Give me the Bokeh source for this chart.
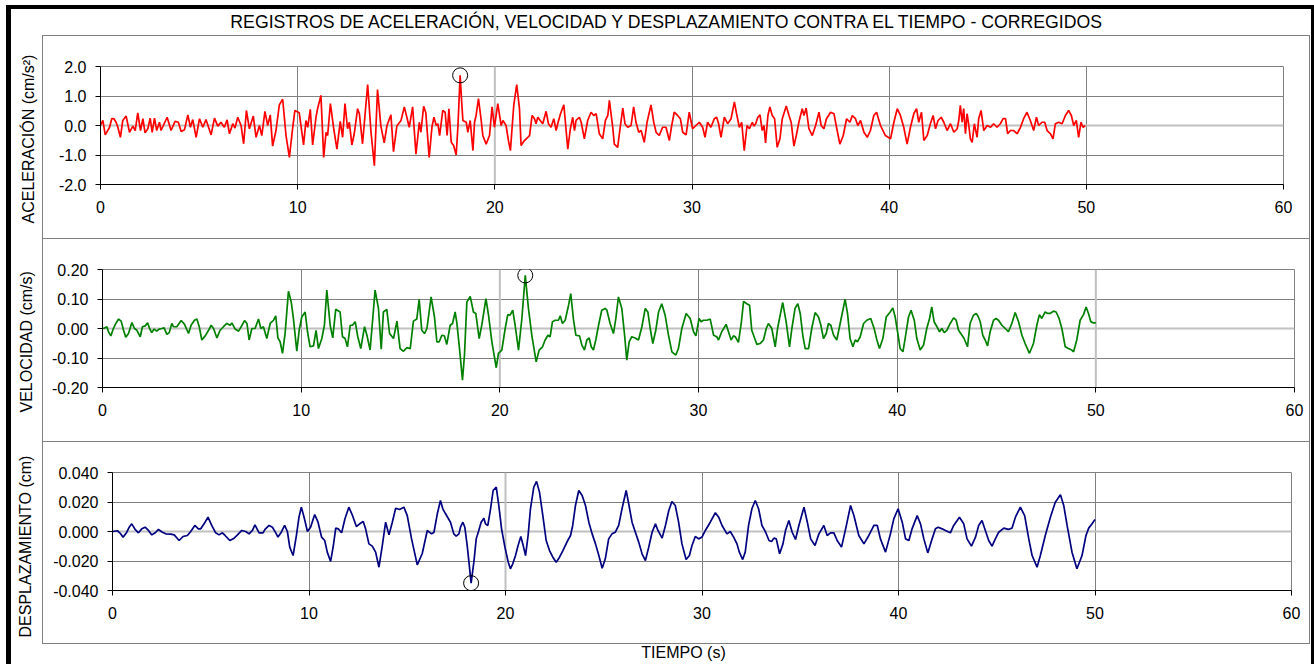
from bokeh.plotting import figure
from bokeh.models import Range1d, FixedTicker, Label, Span, Title
from bokeh.embed import file_html
from bokeh.resources import INLINE

FONT = "Liberation Sans"
TITLE = "REGISTROS DE ACELERACIÓN, VELOCIDAD Y DESPLAZAMIENTO CONTRA EL TIEMPO - CORREGIDOS"
X_TITLE = "TIEMPO (s)"
Y_TITLES = ["ACELERACIÓN (cm/s²)", "VELOCIDAD (cm/s)", "DESPLAZAMIENTO (cm)"]
X_TICKS = [0, 10, 20, 30, 40, 50, 60]
ACC_TICKS = [-2.0, -1.0, 0.0, 1.0, 2.0]
ACC_LABELS = ["-2.0", "-1.0", "0.0", "1.0", "2.0"]
VEL_TICKS = [-0.2, -0.1, 0.0, 0.1, 0.2]
VEL_LABELS = ["-0.20", "-0.10", "0.00", "0.10", "0.20"]
DIS_TICKS = [-0.04, -0.02, 0.0, 0.02, 0.04]
DIS_LABELS = ["-0.040", "-0.020", "0.000", "0.020", "0.040"]

# (tiempo s, aceleración cm/s²)
ACC = [
    (0.0, 0.0), (0.12, 0.17), (0.24, -0.32), (0.46, -0.06), (0.57, 0.23), (0.68, 0.23), (0.79, 0.11),
    (0.88, -0.06), (1.01, -0.40), (1.13, 0.17), (1.30, 0.32), (1.47, -0.23), (1.64, -0.02), (1.76, -0.17),
    (1.89, 0.43), (2.03, -0.17), (2.15, 0.23), (2.26, -0.25), (2.40, -0.11), (2.52, 0.25), (2.62, -0.23),
    (2.74, 0.25), (2.85, -0.17), (2.99, 0.11), (3.07, -0.17), (3.38, 0.28), (3.58, -0.17), (3.78, 0.14),
    (3.95, 0.11), (4.09, -0.20), (4.26, -0.14), (4.43, 0.36), (4.56, -0.06), (4.68, 0.20), (4.85, -0.40),
    (5.02, 0.23), (5.19, -0.06), (5.35, 0.20), (5.61, -0.32), (5.78, 0.25), (5.95, -0.02), (6.11, 0.11),
    (6.28, -0.06), (6.42, 0.19), (6.54, -0.28), (6.71, 0.06), (6.82, -0.09), (6.96, 0.28), (7.13, 0.0),
    (7.26, -0.62), (7.40, 0.51), (7.55, -0.11), (7.75, 0.32), (7.89, -0.40), (8.06, 0.0), (8.18, -0.34),
    (8.34, 0.48), (8.48, 0.0), (8.61, 0.36), (8.73, -0.70), (8.90, -0.17), (9.07, 0.70), (9.24, 0.89),
    (9.41, -0.34), (9.58, -1.08), (9.75, -0.06), (9.86, 0.51), (10.08, 0.43), (10.30, -0.66), (10.42, 0.17),
    (10.51, -0.06), (10.64, 0.55), (10.76, -0.66), (10.93, 0.28), (11.01, 0.57), (11.18, 1.02), (11.32, -1.08),
    (11.44, -0.23), (11.52, -0.34), (11.66, 0.74), (11.82, -0.06), (11.99, -0.80), (12.16, 0.14), (12.28, -0.40),
    (12.40, 0.74), (12.53, -0.11), (12.62, 0.11), (12.75, -0.66), (12.87, -0.28), (13.04, 0.57), (13.13, 0.40),
    (13.29, -0.62), (13.55, 1.39), (13.72, -0.23), (13.89, -1.36), (14.05, 1.22), (14.22, -0.02), (14.39, -0.59),
    (14.53, 0.0), (14.73, 0.36), (14.86, -0.89), (15.03, -0.02), (15.24, 0.17), (15.41, 0.63), (15.66, -0.06),
    (15.83, 0.63), (16.00, -0.97), (16.17, 0.11), (16.25, -0.23), (16.39, 0.65), (16.50, 0.43), (16.67, -1.08),
    (16.81, -0.06), (16.91, 0.28), (17.03, 0.0), (17.11, 0.06), (17.20, -0.34), (17.36, 0.51), (17.48, 0.45),
    (17.58, -0.34), (17.67, 0.57), (17.79, -0.57), (17.91, -0.68), (18.04, -1.00), (18.13, 0.0), (18.24, 1.70),
    (18.33, 0.68), (18.38, 0.17), (18.55, 0.11), (18.63, -0.23), (18.75, 0.17), (18.89, -0.85), (18.97, 0.11),
    (19.05, 0.34), (19.17, 0.91), (19.31, 0.17), (19.39, -0.34), (19.56, -0.63), (19.73, -0.34), (19.86, 0.63),
    (19.98, -0.06), (20.15, 0.74), (20.32, 0.0), (20.41, 0.17), (20.57, 0.0), (20.69, -0.51), (20.79, -0.85),
    (20.96, 0.68), (21.11, 1.39), (21.25, 0.57), (21.33, -0.68), (21.50, -0.51), (21.67, -0.40), (21.76, -0.34),
    (21.89, 0.34), (22.01, 0.23), (22.09, 0.06), (22.18, 0.28), (22.30, 0.17), (22.43, 0.06), (22.60, 0.48),
    (22.72, 0.06), (22.85, -0.06), (22.99, 0.23), (23.11, -0.17), (23.19, 0.06), (23.33, 0.40), (23.50, 0.70),
    (23.58, 0.11), (23.70, -0.80), (23.83, -0.11), (23.95, 0.28), (24.04, -0.17), (24.12, 0.17), (24.29, 0.28),
    (24.38, 0.11), (24.54, -0.45), (24.71, 0.17), (24.88, 0.45), (25.02, 0.34), (25.14, 0.40), (25.30, -0.28),
    (25.47, -0.45), (25.61, 0.17), (25.73, 0.34), (25.81, 0.85), (25.98, -0.06), (26.06, -0.63), (26.23, -0.74),
    (26.35, -0.11), (26.49, 0.59), (26.60, 0.06), (26.74, -0.06), (26.91, 0.0), (27.04, 0.63), (27.16, 0.11),
    (27.30, -0.23), (27.42, -0.17), (27.58, -0.57), (27.72, 0.11), (27.92, 0.70), (28.06, 0.11), (28.18, -0.23),
    (28.34, -0.34), (28.51, -0.06), (28.68, -0.06), (28.85, -0.51), (28.97, 0.0), (29.10, 0.45), (29.27, 0.34),
    (29.41, 0.23), (29.53, -0.23), (29.70, -0.32), (29.86, 0.45), (30.03, -0.11), (30.20, 0.0), (30.37, 0.11),
    (30.54, -0.06), (30.66, -0.40), (30.79, 0.11), (30.96, -0.06), (31.13, 0.23), (31.25, 0.28), (31.35, 0.06),
    (31.47, -0.40), (31.64, 0.28), (31.81, 0.06), (31.98, 0.23), (32.15, 0.80), (32.26, 0.40), (32.40, -0.06),
    (32.52, 0.11), (32.65, -0.85), (32.79, 0.0), (32.91, -0.11), (33.06, 0.11), (33.14, -0.02), (33.23, 0.06),
    (33.34, 0.28), (33.45, 0.36), (33.56, -0.17), (33.65, 0.0), (33.73, -0.59), (33.85, 0.34), (33.95, 0.63),
    (34.07, 0.34), (34.19, 0.23), (34.32, -0.74), (34.46, -0.45), (34.58, 0.23), (34.78, 0.66), (34.92, 0.34),
    (35.03, 0.11), (35.17, -0.70), (35.29, -0.34), (35.42, 0.11), (35.59, 0.57), (35.68, 0.34), (35.79, 0.59),
    (35.93, -0.11), (36.10, -0.34), (36.27, 0.0), (36.44, 0.45), (36.55, 0.0), (36.69, -0.11), (36.82, 0.23),
    (37.03, 0.45), (37.20, 0.40), (37.33, -0.06), (37.50, -0.63), (37.67, -0.34), (37.84, 0.23), (38.01, 0.11),
    (38.13, 0.34), (38.29, 0.23), (38.41, 0.0), (38.55, 0.17), (38.72, -0.23), (38.89, -0.40), (39.05, -0.17),
    (39.22, 0.34), (39.36, 0.45), (39.56, 0.0), (39.81, -0.34), (40.07, -0.45), (40.24, 0.11), (40.41, 0.57),
    (40.57, 0.34), (40.74, -0.06), (40.91, -0.63), (41.08, -0.06), (41.25, 0.40), (41.39, 0.57), (41.50, 0.11),
    (41.64, 0.45), (41.76, -0.51), (41.93, -0.34), (42.09, 0.06), (42.23, 0.34), (42.35, -0.11), (42.48, 0.17),
    (42.64, 0.28), (42.77, 0.11), (42.94, -0.17), (43.11, 0.06), (43.28, -0.23), (43.45, -0.11), (43.53, 0.17),
    (43.61, 0.68), (43.70, 0.11), (43.78, 0.57), (43.87, -0.28), (43.95, 0.40), (44.04, 0.0), (44.12, -0.45),
    (44.21, -0.57), (44.32, 0.06), (44.46, -0.40), (44.54, 0.23), (44.66, 0.51), (44.80, -0.17), (44.97, 0.0),
    (45.14, -0.06), (45.30, 0.06), (45.47, -0.06), (45.64, 0.06), (45.78, 0.23), (45.90, 0.23), (46.01, -0.28),
    (46.15, -0.17), (46.32, -0.17), (46.49, -0.28), (46.66, -0.06), (46.82, 0.23), (46.99, 0.45), (47.16, 0.17),
    (47.33, -0.17), (47.47, 0.28), (47.58, 0.0), (47.75, 0.11), (47.89, 0.11), (48.01, -0.17), (48.18, -0.28),
    (48.31, -0.45), (48.43, 0.06), (48.60, 0.11), (48.77, 0.06), (48.94, 0.34), (49.10, 0.51), (49.24, 0.34),
    (49.36, 0.0), (49.49, 0.17), (49.61, -0.40), (49.73, 0.11), (49.83, -0.06), (49.95, 0.0),
]

# (tiempo s, velocidad cm/s)
VEL = [
    (0.0, 0.0), (0.13, 0.002), (0.22, 0.006), (0.30, -0.011), (0.42, -0.025), (0.55, 0.0), (0.67, 0.017),
    (0.81, 0.032), (0.94, 0.025), (1.06, -0.006), (1.17, -0.030), (1.31, -0.017), (1.48, 0.020), (1.61, 0.0),
    (1.73, -0.006), (1.90, -0.028), (2.01, 0.006), (2.15, 0.009), (2.27, 0.019), (2.37, 0.0), (2.48, -0.014),
    (2.60, -0.002), (2.73, -0.009), (2.85, -0.002), (2.99, 0.0), (3.10, 0.002), (3.24, -0.020), (3.36, -0.014),
    (3.49, 0.017), (3.57, 0.006), (3.74, 0.006), (3.96, 0.027), (4.13, 0.014), (4.33, -0.017), (4.46, 0.011),
    (4.63, 0.028), (4.75, 0.032), (4.87, 0.006), (5.00, -0.039), (5.17, -0.025), (5.34, -0.006), (5.47, 0.011),
    (5.59, 0.0), (5.76, -0.032), (5.92, -0.006), (6.09, 0.006), (6.26, 0.017), (6.43, 0.011), (6.51, 0.019),
    (6.68, -0.002), (6.85, -0.009), (6.98, 0.006), (7.15, 0.027), (7.27, 0.017), (7.38, -0.039), (7.52, 0.0),
    (7.68, 0.0), (7.85, 0.032), (7.97, 0.0), (8.10, 0.006), (8.27, -0.034), (8.44, 0.017), (8.61, 0.028),
    (8.72, 0.043), (8.83, -0.032), (8.94, -0.045), (9.06, -0.084), (9.19, -0.017), (9.36, 0.126), (9.50, 0.090),
    (9.61, 0.034), (9.78, -0.077), (9.90, -0.006), (10.03, 0.039), (10.20, 0.056), (10.32, -0.011), (10.45, -0.062),
    (10.62, -0.059), (10.75, -0.006), (10.87, -0.068), (11.04, -0.034), (11.17, 0.011), (11.29, 0.130), (11.46, 0.011),
    (11.59, -0.032), (11.74, 0.065), (11.96, 0.056), (12.08, -0.028), (12.21, -0.034), (12.33, -0.062), (12.47, 0.011),
    (12.58, 0.011), (12.72, 0.023), (12.85, -0.028), (13.00, -0.068), (13.19, 0.006), (13.31, -0.023), (13.47, -0.073),
    (13.61, 0.039), (13.72, 0.130), (13.89, 0.068), (14.03, -0.070), (14.14, 0.056), (14.31, 0.065), (14.45, -0.017),
    (14.65, -0.034), (14.82, 0.025), (14.98, -0.068), (15.15, -0.077), (15.32, -0.065), (15.49, -0.068), (15.65, 0.025),
    (15.82, 0.032), (15.94, 0.099), (16.07, -0.006), (16.21, -0.017), (16.33, 0.0), (16.54, 0.107), (16.71, 0.039),
    (16.83, -0.045), (16.95, -0.045), (17.08, -0.023), (17.21, -0.025), (17.33, -0.054), (17.50, 0.011), (17.62, 0.017),
    (17.75, 0.056), (17.84, 0.017), (17.97, -0.068), (18.12, -0.175), (18.22, -0.090), (18.34, 0.090), (18.51, 0.109),
    (18.67, 0.056), (18.79, 0.051), (18.96, -0.034), (19.09, 0.011), (19.30, 0.101), (19.43, 0.045), (19.60, -0.045),
    (19.82, -0.133), (19.93, -0.084), (20.10, -0.073), (20.27, 0.0), (20.40, 0.047), (20.52, 0.045), (20.65, 0.062),
    (20.77, 0.011), (20.94, -0.073), (21.11, 0.034), (21.28, 0.180), (21.44, 0.068), (21.61, -0.023), (21.83, -0.113),
    (21.98, -0.073), (22.15, -0.062), (22.28, -0.039), (22.42, -0.023), (22.53, -0.028), (22.65, 0.023), (22.79, 0.028),
    (22.95, 0.028), (23.04, 0.043), (23.15, 0.017), (23.29, 0.028), (23.46, 0.079), (23.57, 0.118), (23.71, 0.028),
    (23.83, -0.023), (24.01, -0.025), (24.13, -0.056), (24.26, -0.073), (24.38, -0.039), (24.50, -0.032), (24.60, -0.062),
    (24.71, -0.073), (24.83, -0.039), (24.97, 0.011), (25.13, 0.062), (25.30, 0.068), (25.39, 0.062), (25.55, 0.017),
    (25.72, -0.017), (25.84, 0.034), (25.97, 0.107), (26.14, 0.068), (26.28, -0.023), (26.39, -0.107), (26.51, -0.045),
    (26.64, -0.028), (26.81, -0.032), (26.98, -0.039), (27.15, 0.006), (27.32, 0.068), (27.45, 0.056), (27.57, 0.0),
    (27.70, -0.051), (27.85, -0.006), (27.99, 0.056), (28.15, 0.084), (28.32, 0.045), (28.49, -0.023), (28.66, -0.079),
    (28.86, -0.090), (28.99, -0.068), (29.16, 0.0), (29.38, 0.051), (29.58, 0.034), (29.75, -0.011), (29.87, -0.025),
    (30.03, 0.034), (30.13, 0.023), (30.25, 0.028), (30.42, 0.028), (30.59, 0.032), (30.76, -0.023), (30.92, -0.028),
    (31.01, -0.039), (31.17, -0.011), (31.39, 0.014), (31.51, -0.011), (31.64, -0.039), (31.76, -0.025), (31.85, -0.028),
    (32.01, -0.047), (32.15, 0.017), (32.27, 0.092), (32.43, 0.084), (32.57, 0.079), (32.68, -0.006), (32.94, -0.054),
    (33.10, -0.051), (33.27, -0.039), (33.41, 0.0), (33.52, 0.017), (33.69, 0.0), (33.86, -0.062), (33.98, 0.0),
    (34.11, 0.045), (34.24, 0.088), (34.41, 0.023), (34.58, -0.062), (34.70, 0.0), (34.86, 0.068), (35.00, 0.084),
    (35.12, 0.051), (35.25, -0.023), (35.37, -0.068), (35.54, -0.068), (35.70, 0.0), (35.87, 0.054), (36.04, 0.039),
    (36.16, 0.011), (36.29, -0.034), (36.43, -0.017), (36.54, 0.017), (36.66, 0.011), (36.80, -0.023), (36.96, -0.039),
    (37.13, 0.017), (37.38, 0.099), (37.50, 0.051), (37.63, -0.034), (37.77, -0.062), (37.89, -0.039), (38.00, -0.045),
    (38.14, -0.028), (38.31, 0.017), (38.47, 0.028), (38.67, 0.034), (38.84, 0.0), (38.98, -0.039), (39.11, -0.068),
    (39.28, -0.034), (39.45, 0.039), (39.65, 0.056), (39.78, 0.070), (39.90, 0.039), (40.02, -0.011), (40.15, -0.068),
    (40.29, -0.079), (40.40, -0.034), (40.57, 0.039), (40.70, 0.062), (40.86, 0.028), (40.99, -0.034), (41.16, -0.073),
    (41.33, -0.056), (41.49, 0.0), (41.63, 0.034), (41.74, 0.073), (41.86, 0.023), (42.00, 0.006), (42.13, -0.011),
    (42.25, 0.0), (42.37, -0.014), (42.50, -0.006), (42.67, 0.017), (42.84, 0.036), (42.97, 0.028), (43.09, -0.006),
    (43.26, -0.023), (43.37, -0.034), (43.54, -0.062), (43.67, 0.017), (43.84, 0.045), (43.98, 0.051), (44.09, 0.039),
    (44.18, 0.023), (44.31, -0.023), (44.43, -0.039), (44.55, -0.059), (44.68, -0.011), (44.85, 0.028), (44.98, 0.034),
    (45.10, 0.028), (45.27, 0.011), (45.44, 0.0), (45.60, -0.011), (45.77, 0.017), (45.94, 0.054), (46.11, 0.023),
    (46.28, -0.023), (46.44, -0.051), (46.66, -0.084), (46.86, -0.051), (47.03, 0.011), (47.16, 0.047), (47.28, 0.034),
    (47.45, 0.056), (47.57, 0.051), (47.70, 0.051), (47.87, 0.059), (48.00, 0.056), (48.15, 0.034), (48.29, 0.0),
    (48.46, -0.062), (48.62, -0.068), (48.79, -0.073), (48.88, -0.079), (49.04, -0.039), (49.21, 0.028), (49.38, 0.047),
    (49.51, 0.073), (49.63, 0.051), (49.75, 0.023), (49.88, 0.019), (50.0, 0.019),
]

# (tiempo s, desplazamiento cm)
DIS = [
    (0.0, 0.0), (0.25, 0.0005), (0.37, -0.0009), (0.54, -0.0038), (0.71, -0.0009), (0.85, 0.0029), (0.98, 0.0052),
    (1.15, 0.0014), (1.32, -0.0009), (1.49, 0.0018), (1.66, 0.0029), (1.83, 0.0007), (2.00, -0.0023), (2.17, -0.0009),
    (2.34, 0.0014), (2.54, -0.0005), (2.71, -0.0016), (2.97, -0.0018), (3.14, -0.0023), (3.39, -0.0061), (3.59, -0.0034),
    (3.81, -0.0027), (3.98, 0.0), (4.19, 0.0041), (4.37, 0.0018), (4.49, 0.0018), (4.66, 0.0052), (4.86, 0.0097),
    (5.05, 0.0041), (5.25, -0.0009), (5.42, -0.0023), (5.59, -0.0009), (5.73, -0.0027), (5.97, -0.0061), (6.19, -0.0045),
    (6.36, -0.0023), (6.58, 0.0007), (6.78, 0.0), (6.95, -0.0016), (7.12, 0.0007), (7.25, 0.0045), (7.46, -0.0009),
    (7.66, -0.0009), (7.76, 0.0014), (7.97, 0.0041), (8.14, 0.0029), (8.31, -0.0009), (8.42, -0.0038), (8.59, -0.0005),
    (8.76, 0.0041), (8.90, 0.0), (9.02, -0.0106), (9.19, -0.0163), (9.36, -0.0027), (9.49, 0.0097), (9.61, 0.0165),
    (9.75, 0.0097), (9.92, 0.0), (10.08, 0.0029), (10.29, 0.0115), (10.46, 0.0063), (10.64, -0.0038), (10.80, -0.0061),
    (10.93, -0.0140), (11.10, -0.0203), (11.24, -0.0095), (11.36, 0.0023), (11.49, 0.0018), (11.66, -0.0009),
    (11.83, 0.0086), (12.03, 0.0165), (12.20, 0.0113), (12.41, 0.0034), (12.58, 0.0052), (12.76, 0.0068), (12.88, 0.0018),
    (13.05, -0.0084), (13.22, -0.0099), (13.39, -0.0140), (13.56, -0.0242), (13.73, -0.0095), (13.90, 0.0063),
    (14.07, -0.0023), (14.24, 0.0063), (14.41, 0.0158), (14.61, 0.0149), (14.83, 0.0165), (15.00, 0.0108),
    (15.22, -0.0050), (15.51, -0.0226), (15.76, -0.0151), (16.02, 0.0007), (16.24, -0.0016), (16.36, -0.0005),
    (16.53, 0.0120), (16.69, 0.0210), (16.81, 0.0154), (16.95, 0.0120), (17.20, 0.0063), (17.37, -0.0016),
    (17.49, -0.0032), (17.63, -0.0016), (17.71, 0.0029), (17.83, 0.0063), (17.93, 0.0029), (18.05, -0.0095),
    (18.14, -0.0208), (18.25, -0.0350), (18.39, -0.0208), (18.51, -0.0050), (18.64, 0.0007), (18.76, 0.0063),
    (18.90, 0.0090), (18.98, 0.0052), (19.10, 0.0041), (19.24, 0.0154), (19.37, 0.0278), (19.53, 0.0301),
    (19.66, 0.0176), (19.80, 0.0018), (19.97, -0.0106), (20.14, -0.0208), (20.25, -0.0253), (20.37, -0.0219),
    (20.51, -0.0163), (20.64, -0.0095), (20.78, -0.0034), (20.88, -0.0084), (21.02, -0.0163), (21.15, -0.0027),
    (21.27, 0.0154), (21.44, 0.0301), (21.58, 0.0340), (21.73, 0.0267), (21.90, 0.0108), (22.07, -0.0061),
    (22.24, -0.0129), (22.41, -0.0174), (22.58, -0.0208), (22.75, -0.0174), (22.92, -0.0129), (23.14, -0.0068),
    (23.31, -0.0027), (23.42, 0.0041), (23.56, 0.0176), (23.73, 0.0278), (23.90, 0.0244), (24.07, 0.0176),
    (24.24, 0.0063), (24.41, -0.0016), (24.58, -0.0084), (24.75, -0.0163), (24.92, -0.0249), (25.08, -0.0185),
    (25.25, -0.0050), (25.42, -0.0016), (25.59, -0.0005), (25.76, 0.0041), (25.93, 0.0154), (26.14, 0.0278),
    (26.27, 0.0188), (26.44, 0.0063), (26.61, -0.0005), (26.78, -0.0072), (26.95, -0.0151), (27.12, -0.0197),
    (27.29, -0.0106), (27.46, -0.0005), (27.63, 0.0052), (27.76, 0.0007), (27.97, -0.0045), (28.14, 0.0041),
    (28.31, 0.0142), (28.47, 0.0203), (28.64, 0.0176), (28.81, 0.0063), (28.98, -0.0084), (29.19, -0.0190),
    (29.36, -0.0163), (29.49, -0.0095), (29.66, -0.0034), (29.83, -0.0050), (30.00, -0.0038), (30.17, 0.0007),
    (30.42, 0.0063), (30.68, 0.0127), (30.85, 0.0097), (31.02, 0.0041), (31.27, -0.0016), (31.44, 0.0),
    (31.61, -0.0038), (31.78, -0.0084), (31.90, -0.0140), (32.07, -0.0190), (32.20, -0.0140), (32.37, 0.0041),
    (32.54, 0.0154), (32.71, 0.0210), (32.88, 0.0154), (33.05, 0.0041), (33.24, -0.0005), (33.41, -0.0061),
    (33.54, -0.0068), (33.66, -0.0045), (33.78, -0.0050), (33.95, -0.0151), (34.12, -0.0084), (34.25, 0.0007),
    (34.42, 0.0075), (34.59, -0.0005), (34.76, -0.0054), (34.93, 0.0041), (35.19, 0.0165), (35.36, 0.0063),
    (35.53, -0.0050), (35.75, -0.0095), (35.95, -0.0016), (36.20, 0.0041), (36.37, -0.0027), (36.54, -0.0009),
    (36.71, -0.0009), (36.88, -0.0061), (37.10, -0.0106), (37.31, 0.0018), (37.56, 0.0176), (37.73, 0.0108),
    (37.98, -0.0027), (38.24, -0.0084), (38.49, -0.0027), (38.75, 0.0041), (38.92, 0.0041), (39.08, -0.0050),
    (39.34, -0.0140), (39.59, -0.0016), (39.76, 0.0086), (39.98, 0.0154), (40.19, 0.0063), (40.36, -0.0050),
    (40.53, -0.0061), (40.69, 0.0018), (40.95, 0.0108), (41.12, 0.0052), (41.29, -0.0050), (41.49, -0.0145),
    (41.71, -0.0050), (41.88, 0.0018), (42.02, 0.0029), (42.22, 0.0018), (42.39, 0.0007), (42.64, -0.0009),
    (42.81, 0.0041), (43.10, 0.0097), (43.32, 0.0052), (43.49, -0.0050), (43.71, -0.0099), (43.92, -0.0038),
    (44.08, 0.0041), (44.25, 0.0075), (44.42, 0.0007), (44.59, -0.0061), (44.76, -0.0099), (44.93, -0.0050),
    (45.10, -0.0005), (45.36, 0.0023), (45.58, 0.0014), (45.78, 0.0023), (45.95, 0.0097), (46.20, 0.0165),
    (46.42, 0.0108), (46.63, -0.0050), (46.80, -0.0163), (47.05, -0.0242), (47.22, -0.0163), (47.47, -0.0027),
    (47.73, 0.0097), (47.98, 0.0199), (48.24, 0.0249), (48.41, 0.0176), (48.58, 0.0041), (48.83, -0.0140),
    (49.08, -0.0253), (49.34, -0.0163), (49.54, -0.0027), (49.68, 0.0023), (49.85, 0.0052), (50.0, 0.0081),
]

W = 1314
GRID = "#808080"
LIGHT = "#c0c0c0"


def css_bg(rects):
    return {
        "background-image": ", ".join(f"linear-gradient({c}, {c})" for (_, _, _, _, c) in rects),
        "background-size": ", ".join(f"{w}px {h}px" for (_, _, w, h, _) in rects),
        "background-position": ", ".join(f"{x}px {y}px" for (x, y, _, _, _) in rects),
        "background-repeat": "no-repeat",
    }


def frame_rects(h, y0=0):
    return [(6, y0, 5, h - y0, "#000000"), (1311, y0, 3, h - y0, "#000000")]


def strip(h, text, tx, ty, size, rects):
    s = figure(width=W, height=h, x_range=Range1d(0, W), y_range=Range1d(h, 0),
               x_axis_type=None, y_axis_type=None, min_border=0,
               output_backend="svg", toolbar_location=None, styles=css_bg(rects))
    s.grid.visible = False
    s.outline_line_color = None
    s.background_fill_color = None
    s.border_fill_color = None
    s.add_layout(Label(x=tx, y=ty, text=text, text_align="center", text_baseline="middle",
                       text_font=FONT, text_font_size=size, text_color="black"))
    return s


def panel(pts, color, ticks, labels, ytitle, bl, fw, t_standoff, t_offset, light_x, last=False):
    h = 203
    rects = [(42, 0, 1, h, GRID), (1309, 0, 1, h, GRID), (42, 0, 1268, 1, GRID)] + frame_rects(h)
    if last:
        rects.append((42, h - 1, 1268, 1, GRID))
    p = figure(width=W, height=h, x_range=Range1d(0, 60), y_range=Range1d(ticks[0], ticks[-1]),
               min_border_left=bl, min_border_right=W - bl - fw, min_border_top=31, min_border_bottom=54,
               output_backend="svg", toolbar_location=None, styles=css_bg(rects))
    p.background_fill_color = "white"
    p.border_fill_color = None
    p.outline_line_color = GRID
    p.xaxis.ticker = FixedTicker(ticks=X_TICKS)
    p.yaxis.ticker = FixedTicker(ticks=ticks)
    p.yaxis.major_label_overrides = dict(zip(ticks, labels))
    for ax in (p.xaxis[0], p.yaxis[0]):
        ax.axis_line_color = "black"
        ax.axis_line_width = 1
        ax.major_tick_line_color = "black"
        ax.major_tick_out = 5
        ax.major_tick_in = 0
        ax.minor_tick_line_color = None
        ax.major_label_text_font = FONT
        ax.major_label_text_font_size = "16px"
        ax.major_label_text_color = "black"
    p.xaxis.major_label_standoff = 11
    p.yaxis.major_label_standoff = 9
    p.grid.grid_line_color = GRID
    p.grid.grid_line_width = 1
    p.grid.grid_line_alpha = 1
    p.add_layout(Span(location=0, dimension="width", line_color=LIGHT, line_width=2, level="underlay"))
    for lx in light_x:
        p.add_layout(Span(location=lx, dimension="height", line_color=LIGHT, line_width=2, level="underlay"))

    t = [a for a, _ in pts]
    v = [b for _, b in pts]
    p.line(t, v, line_color=color, line_width=1.7)
    k = max(range(len(v)), key=lambda i: abs(v[i]))
    p.scatter([t[k]], [v[k]], marker="circle", size=15, fill_color=None, line_color="black", line_width=1)

    p.add_layout(Title(text=ytitle, align="left", offset=t_offset, vertical_align="middle",
                       standoff=t_standoff, text_font=FONT, text_font_size="16px",
                       text_font_style="normal", text_color="black"), "left")
    return p


top = strip(35, TITLE, 667.5, 21, "17.7px", frame_rects(35, 5) + [(6, 5, 1308, 4, "#000000")])
pA = panel(ACC, "#ff0000", ACC_TICKS, ACC_LABELS, Y_TITLES[0], 98, 1185, 36, -39, [20])
pB = panel(VEL, "#008000", VEL_TICKS, VEL_LABELS, Y_TITLES[1], 102, 1192, 28, -25, [20, 50])
pC = panel(DIS, "#000080", DIS_TICKS, DIS_LABELS, Y_TITLES[2], 111, 1180, 31, -47, [20], last=True)
bottom = strip(20, X_TITLE, 683, 8, "16px", frame_rects(20))

open("out.html", "w").write(file_html([top, pA, pB, pC, bottom], INLINE))
